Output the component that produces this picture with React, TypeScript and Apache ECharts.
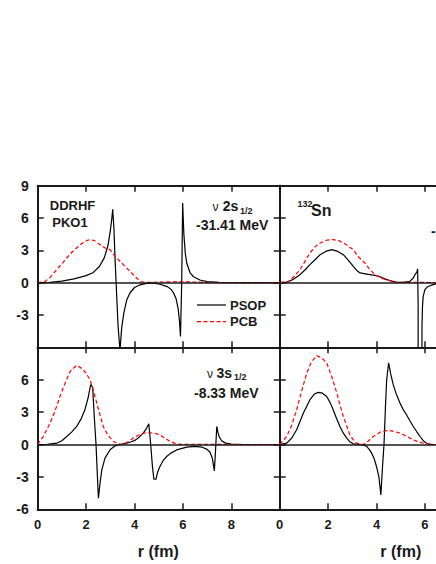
import React, { useEffect, useRef } from "react";
import * as echarts from "echarts";

// Radial range and tick values
const rTicks = [0, 2, 4, 6, 8, 10];
const yTicks = [-6, -3, 0, 3, 6, 9];

// Top-left: nu 2s1/2 (DDRHF PKO1)
const psopTL: number[][] = [
  [0, 0], [0.5, 0.02], [1.0, 0.15], [1.5, 0.35], [2.0, 0.65], [2.3, 0.95], [2.55, 1.5], [2.75, 2.3], [2.9, 3.4],
  [3.0, 4.8], [3.06, 5.9], [3.1, 6.8], [3.15, 5.0], [3.2, 2.0], [3.25, -0.5], [3.32, -4.0], [3.4, -6.3], [3.47, -4.2],
  [3.56, -2.8], [3.68, -1.6], [3.81, -0.96], [4.0, -0.45], [4.23, -0.2], [4.5, -0.07], [4.8, -0.05], [5.05, -0.15],
  [5.33, -0.34], [5.5, -0.6], [5.6, -0.9], [5.72, -1.5], [5.81, -2.5], [5.86, -3.6], [5.9, -5.0], [5.95, 0],
  [5.99, 7.4], [6.04, 4.5], [6.1, 2.7], [6.16, 1.8], [6.3, 0.9], [6.44, 0.55], [6.7, 0.25], [7.0, 0.1], [7.5, 0.03],
  [8, 0.01], [10, 0],
];
const pcbTL: number[][] = [
  [0, 0], [0.31, 0.12], [0.5, 0.45], [0.78, 1.2], [1.0, 1.75], [1.2, 2.29], [1.4, 2.8], [1.61, 3.22], [1.8, 3.6],
  [2.02, 3.9], [2.16, 4.0], [2.35, 3.9], [2.57, 3.53], [2.8, 3.2], [2.99, 3.06], [3.2, 2.44], [3.54, 1.67],
  [3.81, 1.05], [4.09, 0.43], [4.23, 0.12], [4.4, 0.02], [5.0, 0.05], [5.5, 0.08], [6.0, 0.1], [6.5, 0.05],
  [7.0, 0.02], [8, 0], [10, 0],
];

// Top-right: 132Sn
const psopTR: number[][] = [
  [0, 0], [0.3, 0.05], [0.55, 0.3], [0.84, 0.74], [1.05, 1.2], [1.25, 1.67], [1.47, 2.15], [1.67, 2.6], [1.9, 2.9],
  [2.15, 3.06], [2.4, 2.9], [2.63, 2.6], [2.85, 2.05], [3.04, 1.51], [3.2, 1.1], [3.32, 0.9], [3.6, 0.8], [3.8, 0.72],
  [4.0, 0.65], [4.2, 0.5], [4.42, 0.28], [4.56, 0.19], [4.83, 0.04], [5.1, 0.03], [5.38, 0.12], [5.52, 0.43],
  [5.59, 0.74], [5.67, 1.0], [5.7, 1.27], [5.72, -2], [5.73, -30], [5.87, -30], [5.88, -4], [5.9, -2.2],
  [5.93, -1.27], [6.0, -0.65], [6.1, -0.4], [6.21, -0.28], [6.46, -0.1], [7, -0.03], [8, 0], [10, 0],
];
const pcbTR: number[][] = [
  [0, 0], [0.36, 0.1], [0.6, 0.6], [0.84, 1.2], [1.05, 2.0], [1.25, 2.75], [1.45, 3.3], [1.67, 3.68], [1.95, 3.95],
  [2.21, 4.0], [2.45, 3.9], [2.7, 3.6], [3.04, 3.06], [3.25, 2.4], [3.52, 1.83], [3.73, 1.2], [3.94, 0.74],
  [4.2, 0.4], [4.42, 0.28], [4.63, 0.12], [4.83, 0.03], [5.2, 0.02], [6, 0.02], [7, 0], [10, 0],
];

// Bottom-left: nu 3s1/2
const psopBL: number[][] = [
  [0, 0], [0.4, 0.02], [0.78, 0.12], [1.0, 0.35], [1.2, 0.74], [1.4, 1.15], [1.61, 1.67], [1.8, 2.4], [1.95, 3.22],
  [2.08, 4.3], [2.19, 5.54], [2.27, 5.32], [2.34, 2.5], [2.41, 0], [2.46, -2.6], [2.51, -4.97], [2.58, -3.5],
  [2.65, -2.35], [2.78, -1.26], [2.99, -0.49], [3.2, -0.12], [3.4, 0], [3.68, 0.12], [3.9, 0.28], [4.05, 0.43],
  [4.2, 0.7], [4.36, 1.05], [4.5, 1.5], [4.59, 1.92], [4.63, 1.0], [4.67, 0], [4.74, -2.0], [4.8, -3.21],
  [4.89, -3.21], [4.95, -2.6], [5.05, -2.04], [5.18, -1.5], [5.33, -1.11], [5.5, -0.8], [5.74, -0.5],
  [6.16, -0.25], [6.5, -0.18], [6.8, -0.25], [7.0, -0.45], [7.12, -0.72], [7.22, -1.3], [7.3, -2.45],
  [7.35, -0.5], [7.4, 1.67], [7.45, 1.1], [7.5, 0.7], [7.6, 0.35], [7.74, 0.15], [8.0, 0.04], [8.5, 0], [10, 0],
];
const pcbBL: number[][] = [
  [0, 0], [0.23, 0.74], [0.51, 1.98], [0.7, 3.0], [0.92, 4.45], [1.15, 5.8], [1.35, 6.8], [1.61, 7.33],
  [1.85, 7.0], [2.0, 6.6], [2.16, 6.0], [2.3, 5.0], [2.44, 3.84], [2.58, 2.7], [2.71, 1.67], [2.9, 0.85],
  [3.13, 0.28], [3.3, 0.08], [3.47, 0], [3.7, 0.2], [3.95, 0.6], [4.2, 0.9], [4.5, 1.11], [4.8, 1.05],
  [5.05, 0.9], [5.25, 0.6], [5.47, 0.28], [5.74, 0.05], [6, 0.02], [7, 0.02], [8, 0], [10, 0],
];

// Bottom-right
const psopBR: number[][] = [
  [0, 0], [0.29, 0.12], [0.5, 0.6], [0.7, 1.36], [0.98, 2.91], [1.25, 4.15], [1.45, 4.7], [1.6, 4.83],
  [1.77, 4.75], [1.94, 4.45], [2.08, 3.9], [2.21, 3.22], [2.35, 2.4], [2.49, 1.67], [2.63, 1.05], [2.77, 0.59],
  [2.9, 0.25], [3.04, 0.06], [3.3, 0], [3.5, -0.08], [3.6, -0.19], [3.7, -0.45], [3.8, -0.8], [3.9, -1.3],
  [4.0, -2.04], [4.1, -3.0], [4.18, -4.67], [4.25, -2.0], [4.31, 0], [4.37, 3.5], [4.42, 6.0], [4.5, 7.55],
  [4.58, 6.6], [4.69, 5.54], [4.83, 4.6], [4.97, 3.84], [5.1, 3.25], [5.24, 2.75], [5.38, 2.2], [5.52, 1.67],
  [5.66, 1.2], [5.8, 0.74], [5.93, 0.35], [6.07, 0.12], [6.2, 0.03], [6.35, 0], [7, 0], [10, 0],
];
const pcbBR: number[][] = [
  [0, 0], [0.29, 0.74], [0.5, 1.8], [0.7, 3.22], [0.9, 4.9], [1.12, 6.62], [1.3, 7.6], [1.53, 8.23],
  [1.75, 8.0], [1.94, 7.55], [2.15, 6.3], [2.36, 4.77], [2.5, 3.6], [2.63, 2.6], [2.77, 1.7], [2.9, 0.9],
  [3.05, 0.4], [3.18, 0.12], [3.45, 0], [3.65, 0.3], [3.87, 0.74], [4.05, 1.0], [4.21, 1.21], [4.49, 1.3],
  [4.75, 1.2], [4.97, 1.05], [5.25, 0.75], [5.52, 0.43], [5.75, 0.25], [5.93, 0.12], [6.2, 0.03], [6.35, 0],
  [7, 0], [10, 0],
];

const panels = [
  { psop: psopTL, pcb: pcbTL },
  { psop: psopTR, pcb: pcbTR },
  { psop: psopBL, pcb: pcbBL },
  { psop: psopBR, pcb: pcbBR },
];

const FONT = '"Liberation Sans", Arial, sans-serif';
const INK = "#1a1a1a";

export default function App() {
  const ref = useRef<HTMLDivElement>(null);
  useEffect(() => {
    if (!ref.current) return;
    const chart = echarts.init(ref.current, undefined, { renderer: "svg" });
    const grids = [
      { left: 37.7, top: 185.7, width: 242, height: 161.6 },
      { left: 279.7, top: 185.7, width: 242, height: 161.6 },
      { left: 37.7, top: 347.3, width: 242, height: 162 },
      { left: 279.7, top: 347.3, width: 242, height: 162 },
    ];
    const axisLine = { show: true, onZero: false, lineStyle: { color: INK, width: 2 } };
    const axisTick = { show: true, inside: true, length: 6, lineStyle: { color: INK, width: 1.5 } };
    const labelStyle = { fontFamily: FONT, fontWeight: "bold" as const, color: INK };
    const xAxes: any[] = [];
    const yAxes: any[] = [];
    grids.forEach((_, i) => {
      const bottomRow = i >= 2;
      const leftCol = i % 2 === 0;
      xAxes.push({
        type: "value", gridIndex: i, position: "bottom", min: rTicks[0], max: rTicks[rTicks.length - 1], interval: 2,
        axisLine, axisTick, splitLine: { show: false },
        axisLabel: {
          show: bottomRow, margin: 9, showMaxLabel: false, fontSize: 13, ...labelStyle,
          // the right panel is cropped by the picture's edge after r = 6
          formatter: (v: number) => (leftCol || v <= 6 ? String(v) : ""),
        },
      });
      xAxes.push({
        type: "value", gridIndex: i, position: "top", min: rTicks[0], max: rTicks[rTicks.length - 1], interval: 2,
        axisLine, axisTick, splitLine: { show: false }, axisLabel: { show: false },
      });
      yAxes.push({
        type: "value", gridIndex: i, position: "left", min: yTicks[0], max: yTicks[yTicks.length - 1], interval: 3,
        axisLine, axisTick, splitLine: { show: false },
        axisLabel: {
          show: leftCol, margin: 9, showMinLabel: bottomRow, showMaxLabel: !bottomRow, fontSize: 14,
          ...labelStyle,
        },
      });
      yAxes.push({
        type: "value", gridIndex: i, position: "right", min: yTicks[0], max: yTicks[yTicks.length - 1], interval: 3,
        axisLine, axisTick, splitLine: { show: false }, axisLabel: { show: false },
      });
    });
    const series: any[] = [];
    panels.forEach((p, i) => {
      series.push({
        type: "line", xAxisIndex: i * 2, yAxisIndex: i * 2, data: p.psop, showSymbol: false, symbol: "none",
        lineStyle: { color: "#000", width: 1.2 }, z: 2, clip: true,
        markLine: {
          silent: true, symbol: ["none", "none"], label: { show: false },
          lineStyle: { color: INK, width: 1.5, type: "solid" },
          data: [{ yAxis: 0 }], animation: false,
        },
      });
      series.push({
        type: "line", xAxisIndex: i * 2, yAxisIndex: i * 2, data: p.pcb, showSymbol: false, symbol: "none",
        lineStyle: { color: "#ff0000", width: 1.2, type: [4, 2.5] }, z: 3, clip: true,
      });
    });
    const txt = (text: string, x: number, y: number, size: number, align = "left", weight = "bold") => ({
      type: "text", x, y, z: 10,
      style: {
        text, fill: INK, font: `${weight} ${size}px ${FONT}`, textAlign: align, verticalAlign: "middle",
        textVerticalAlign: "middle",
      },
    });
    const graphic: any[] = [
      txt("DDRHF", 72.5, 205, 13, "center"),
      txt("PKO1", 70, 222, 13, "center"),
      txt("ν", 212.5, 207, 12, "left", "normal"),
      txt("2s", 222.8, 205.8, 14),
      txt("1/2", 240, 210.5, 9),
      txt("-31.41 MeV", 196, 225, 14),
      txt("132", 297.5, 203.5, 9),
      txt("Sn", 311, 210.5, 16),
      txt("-", 431, 231, 14),
      txt("PSOP", 230, 305, 13),
      txt("PCB", 230, 321.7, 13),
      {
        type: "line", z: 10, shape: { x1: 197, y1: 305, x2: 226, y2: 305 },
        style: { stroke: "#000", lineWidth: 1.2 },
      },
      {
        type: "line", z: 10, shape: { x1: 197, y1: 321.7, x2: 226, y2: 321.7 },
        style: { stroke: "#ff0000", lineWidth: 1.2, lineDash: [4, 2.5] },
      },
      txt("ν", 207, 374, 12, "left", "normal"),
      txt("3s", 216.5, 372.5, 14),
      txt("1/2", 234, 376.5, 9),
      txt("-8.33 MeV", 194, 393, 14),
      txt("r (fm)", 158.3, 551.7, 16, "center"),
      txt("r (fm)", 400.8, 551.7, 16, "center"),
    ];
    chart.setOption({
      animation: false,
      backgroundColor: "#ffffff",
      grid: grids.map((g) => ({ ...g, containLabel: false, outerBoundsMode: "none" })),
      xAxis: xAxes,
      yAxis: yAxes,
      series,
      graphic,
    });
    return () => chart.dispose();
  }, []);
  return (
    <div
      style={{ position: "absolute", left: 0, top: 0, width: 436, height: 564, overflow: "hidden", background: "#fff" }}
    >
      <div ref={ref} style={{ position: "absolute", left: 0, top: 0, width: 540, height: 564 }} />
    </div>
  );
}
